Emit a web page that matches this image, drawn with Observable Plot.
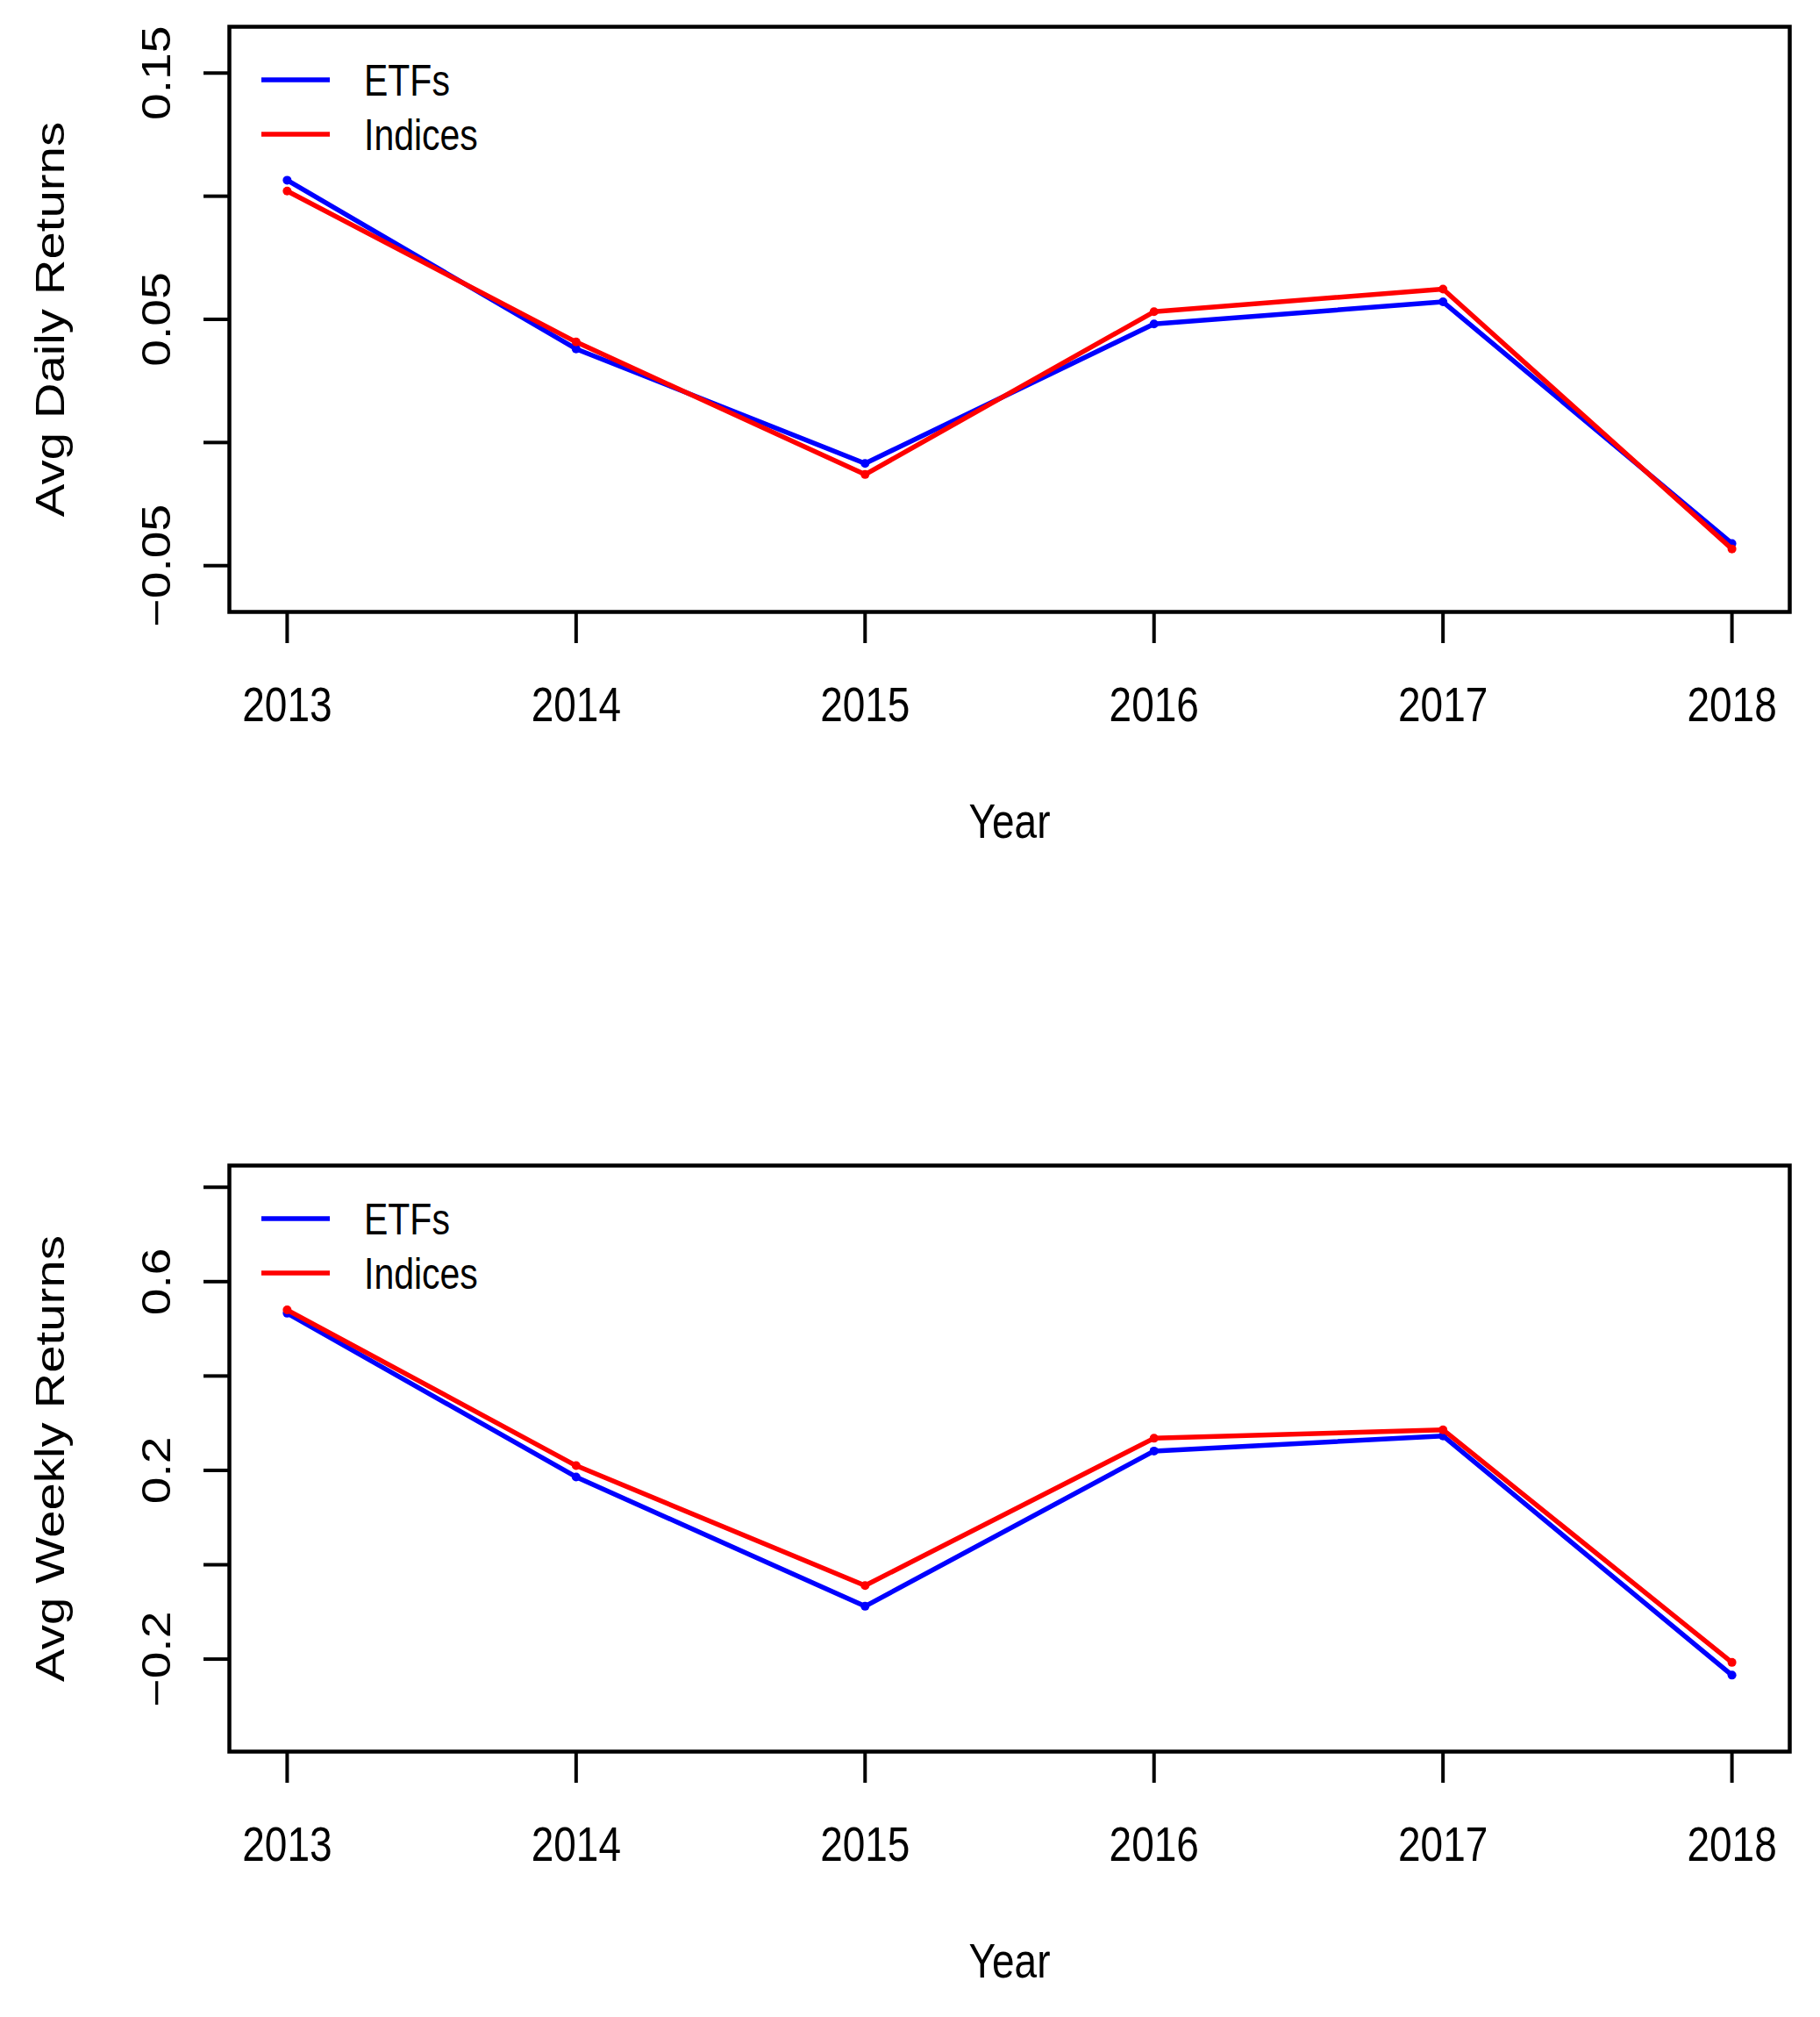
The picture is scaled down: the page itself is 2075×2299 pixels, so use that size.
<!DOCTYPE html>
<html>
<head>
<meta charset="utf-8">
<script src="https://cdn.jsdelivr.net/npm/d3@7"></script>
<script src="https://cdn.jsdelivr.net/npm/@observablehq/plot@0.6"></script>
<style>
  html, body { margin: 0; padding: 0; background: white; }
  #chart svg { display: block; }
</style>
</head>
<body>
<div id="chart"></div>
<script>
// ---- data ----
const years = [2013, 2014, 2015, 2016, 2017, 2018];
const dailyETFs    = [0.1065, 0.0380, -0.0085, 0.0481, 0.0571, -0.0410];
const dailyIndices = [0.1021, 0.0408, -0.0130, 0.0531, 0.0623, -0.0432];
const weeklyETFs    = [0.533, 0.186, -0.088, 0.241, 0.273, -0.234];
const weeklyIndices = [0.540, 0.210, -0.044, 0.268, 0.286, -0.207];
const seriesNames  = ["ETFs", "Indices"];
const seriesColors = ["#0000ff", "#ff0000"];
const dailyTicks    = [-0.05, 0, 0.05, 0.10, 0.15];
const dailyLabeled  = [-0.05, 0.05, 0.15];
const dailyLabels   = ["\u22120.05", "0.05", "0.15"];
const weeklyTicks   = [-0.2, 0, 0.2, 0.4, 0.6, 0.8];
const weeklyLabeled = [-0.2, 0.2, 0.6];
const weeklyLabels  = ["\u22120.2", "0.2", "0.6"];
const xTitle = "Year";
const dailyTitle = "Avg Daily Returns";
const weeklyTitle = "Avg Weekly Returns";
const dailyLimits = [-0.06, 0.16];
const weeklyLimits = [-0.35, 0.8];

// ---- styling ----
const FONT = '"Liberation Sans", Arial, Helvetica, sans-serif';
const STRETCH = 1.2; // the reference's glyphs are drawn taller than they are wide

function rExtend([a, b]) { const d = (b - a) * 0.04; return [a - d, b + d]; }

function legendMark(names, colors) {
  return (index, scales, values, dims) => {
    const g = d3.create("svg:g").attr("text-anchor", "start");
    names.forEach((name, i) => {
      const y = dims.marginTop + 61 + i * 62;
      g.append("line")
        .attr("x1", dims.marginLeft + 37).attr("x2", dims.marginLeft + 115)
        .attr("y1", y).attr("y2", y)
        .attr("stroke", colors[i]).attr("stroke-width", 5.5);
      g.append("text")
        .attr("x", dims.marginLeft + 154).attr("y", y).attr("dy", "0.36em")
        .attr("font-family", FONT).attr("font-size", 41).attr("fill", "black")
        .attr("text-anchor", "start")
        .text(name);
    });
    return g.node();
  };
}

function stretchText(svg, k) {
  d3.select(svg).selectAll("text").each(function() {
    const t = this.getAttribute("transform");
    if (t && t.includes("rotate")) {
      this.setAttribute("transform", t + ` scale(${k},1)`);
    } else if (t) {
      this.setAttribute("transform", t + ` scale(1,${k})`);
    } else {
      const x = +this.getAttribute("x") || 0, y = +this.getAttribute("y") || 0;
      this.setAttribute("x", 0); this.setAttribute("y", 0);
      this.setAttribute("transform", `translate(${x},${y}) scale(1,${k})`);
    }
  });
  return svg;
}

function panel({series, ticks, labeled, labels, limits, title, height, marginBottom}) {
  const seriesMarks = series.flatMap((vals, i) => {
    const rows = years.map((year, j) => ({year, value: vals[j]}));
    return [
      Plot.line(rows, {x: "year", y: "value", stroke: seriesColors[i], strokeWidth: 5.5}),
      Plot.dot(rows, {x: "year", y: "value", fill: seriesColors[i], r: 5})
    ];
  });
  const svg = Plot.plot({
    width: 2075,
    height,
    marginTop: 30,
    marginBottom,
    marginLeft: 261,
    marginRight: 35,
    style: {background: "white", overflow: "visible"},
    x: {domain: rExtend([2013, 2018]), axis: null},
    y: {domain: rExtend(limits), axis: null},
    marks: [
      Plot.axisX({ticks: years, tickSize: 36, tickPadding: 49, tickFormat: d => String(d),
        fontSize: 46, fontFamily: FONT, strokeWidth: 4, label: null}),
      Plot.axisY({ticks, tickSize: 29, tickFormat: () => "", strokeWidth: 4, label: null}),
      Plot.text(labeled.map((v, i) => ({v, t: labels[i]})), {
        y: "v", text: "t", frameAnchor: "left", dx: -68, rotate: -90,
        textAnchor: "middle", lineAnchor: "bottom", fontSize: 46, fontFamily: FONT,
        fill: "black"}),
      Plot.text([title], {text: d => d, frameAnchor: "left", dx: -189, rotate: -90,
        textAnchor: "middle", lineAnchor: "bottom", fontSize: 47, fontFamily: FONT,
        fill: "black"}),
      Plot.text([xTitle], {text: d => d, frameAnchor: "bottom", dy: 240,
        lineAnchor: "middle", fontSize: 46, fontFamily: FONT, fill: "black"}),
      ...seriesMarks,
      Plot.frame({stroke: "black", strokeWidth: 4.5}),
      legendMark(seriesNames, seriesColors)
    ]
  });
  return stretchText(svg, STRETCH);
}

const chart = document.getElementById("chart");
chart.append(panel({
  series: [dailyETFs, dailyIndices], ticks: dailyTicks, labeled: dailyLabeled,
  labels: dailyLabels, limits: dailyLimits, title: dailyTitle, height: 1298, marginBottom: 601
}));
chart.append(panel({
  series: [weeklyETFs, weeklyIndices], ticks: weeklyTicks, labeled: weeklyLabeled,
  labels: weeklyLabels, limits: weeklyLimits, title: weeklyTitle, height: 1001, marginBottom: 303
}));
</script>
</body>
</html>
